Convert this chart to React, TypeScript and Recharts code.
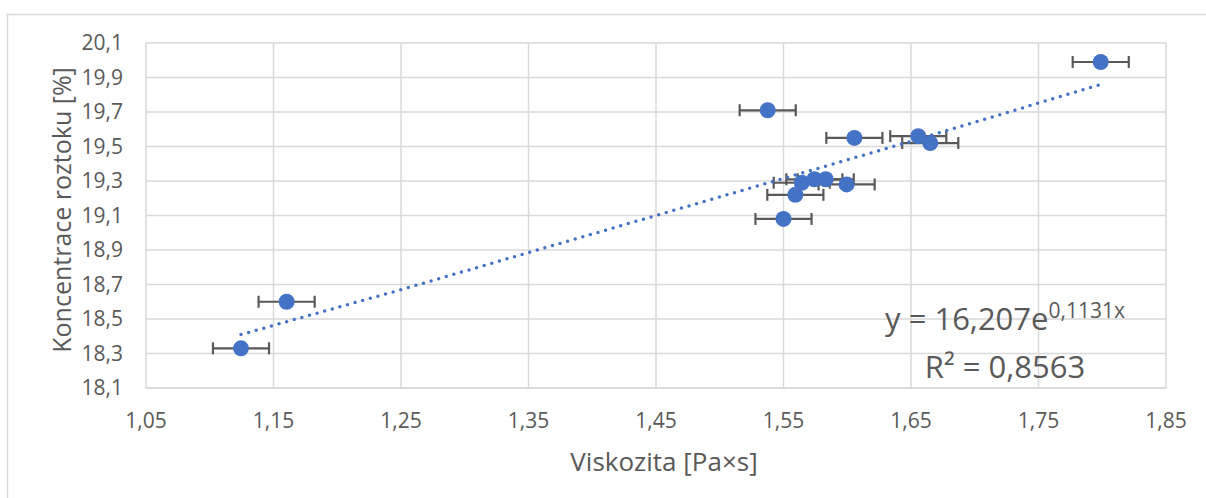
import { ScatterChart, Scatter, XAxis, YAxis, CartesianGrid, ErrorBar } from 'recharts';

// measured points: viscosity [Pa×s] vs. solution concentration [%]
const VISC = [1.7988, 1.5376, 1.6056, 1.6557, 1.6651, 1.5643, 1.5742, 1.5831, 1.5995, 1.5593, 1.55, 1.1603, 1.1245];
const CONC = [19.99, 19.71, 19.55, 19.56, 19.52, 19.29, 19.31, 19.31, 19.28, 19.22, 19.08, 18.6, 18.33];
const VISC_ERR = [0.022, 0.022, 0.022, 0.022, 0.022, 0.022, 0.022, 0.022, 0.022, 0.022, 0.022, 0.022, 0.022];

// exponential trendline
const TREND_X = [1.1245, 1.25, 1.45, 1.65, 1.7988];
const TREND_Y = [18.41, 18.67, 19.1, 19.53, 19.86];

const X_TICKS = [1.05, 1.15, 1.25, 1.35, 1.45, 1.55, 1.65, 1.75, 1.85];
const Y_TICKS = [18.1, 18.3, 18.5, 18.7, 18.9, 19.1, 19.3, 19.5, 19.7, 19.9, 20.1];

const points = VISC.map((x, i) => ({ x, y: CONC[i], ex: VISC_ERR[i] }));
const trend = TREND_X.map((x, i) => ({ x, y: TREND_Y[i] }));

const FONT = '"Open Sans", sans-serif';
const TEXT = '#595959';
const BLUE = '#4472C4';

const comma = (v: number, d: number) => v.toFixed(d).replace('.', ',');

export default function App() {
  return (
    <div style={{ position: 'absolute', left: 0, top: 0, width: 1206, height: 498, background: '#fff' }}>
      <ScatterChart width={1206} height={498} margin={{ top: 43, right: 40, bottom: 50, left: 50 }}>
        <CartesianGrid stroke="#d9d9d9" strokeWidth={1.5} />
        <XAxis
          type="number"
          dataKey="x"
          domain={[1.05, 1.85]}
          ticks={X_TICKS}
          height={60}
          tickLine={false}
          tickSize={0}
          tickMargin={25}
          axisLine={{ stroke: '#d9d9d9', strokeWidth: 1.5 }}
          tick={{ fill: TEXT, fontSize: 21, fontFamily: FONT }}
          tickFormatter={(v: number) => comma(v, 2)}
          allowDataOverflow
        />
        <YAxis
          type="number"
          dataKey="y"
          domain={[18.1, 20.1]}
          ticks={Y_TICKS}
          width={96}
          tickLine={false}
          tickSize={0}
          tickMargin={23}
          axisLine={false}
          tick={{ fill: TEXT, fontSize: 21, fontFamily: FONT }}
          tickFormatter={(v: number) => comma(v, 1)}
          allowDataOverflow
        />
        <Scatter
          data={points}
          fill={BLUE}
          isAnimationActive={false}
          shape={(p: any) => <circle cx={p.cx} cy={p.cy} r={8} fill={BLUE} />}
        >
          <ErrorBar dataKey="ex" direction="x" width={6} stroke="#595959" strokeWidth={2.2} />
        </Scatter>
        <Scatter
          data={trend}
          fill={BLUE}
          isAnimationActive={false}
          line={{ stroke: BLUE, strokeWidth: 3.5, strokeDasharray: '0 7.9', strokeLinecap: 'round' }}
          shape={() => <g />}
        />
      </ScatterChart>
      <svg width={1206} height={498} style={{ position: 'absolute', left: 0, top: 0, pointerEvents: 'none' }}>
        {/* chart frame, clipped by the page */}
        <path d="M7.5 498 L7.5 14.5 L1206 14.5" fill="none" stroke="#d9d9d9" strokeWidth={1.5} />
        <text
          x={61}
          y={210}
          transform="rotate(-90 61 210)"
          textAnchor="middle"
          dominantBaseline="central"
          fill={TEXT}
          fontSize={25}
          fontFamily={FONT}
        >
          Koncentrace roztoku [%]
        </text>
        <text x={664} y={471} textAnchor="middle" fill={TEXT} fontSize={26} fontFamily={FONT}>
          Viskozita [Pa×s]
        </text>
        <text x={1005} y={330} textAnchor="middle" fill={TEXT} fontSize={31} fontFamily={FONT}>
          y = 16,207e
          <tspan dy={-12} fontSize={21}>0,1131x</tspan>
        </text>
        <text x={1005} y={378} textAnchor="middle" fill={TEXT} fontSize={31} fontFamily={FONT}>
          R² = 0,8563
        </text>
      </svg>
    </div>
  );
}
